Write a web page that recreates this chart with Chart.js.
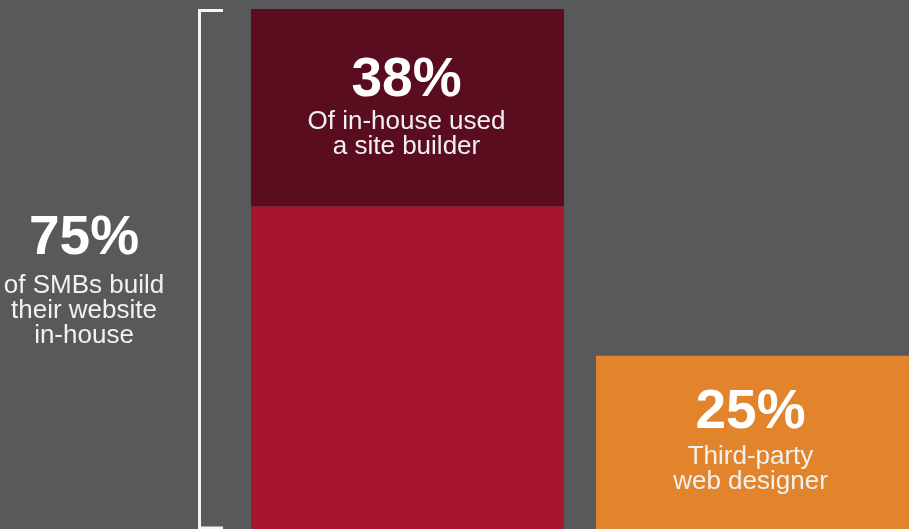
<!DOCTYPE html>
<html>
<head>
<meta charset="utf-8">
<script src="https://cdn.jsdelivr.net/npm/chart.js@4/dist/chart.umd.min.js"></script>
<style>
  html, body { margin: 0; padding: 0; background: #58595b; }
  #wrap { width: 909px; height: 529px; position: relative; }
</style>
</head>
<body>
<div id="wrap"><canvas id="c"></canvas></div>
<script>
// How SMBs build their website (percent of SMBs)
const categories = ['In-house', 'Third-party'];
const inHouseTotal = 75;        // % of SMBs building in-house
const siteBuilderShare = 38;    // % of in-house builders who used a site builder
const thirdPartyTotal = 25;     // % of SMBs using a third-party web designer

// Stacked segments: site-builder slice sits on top of the rest of the in-house bar
const siteBuilderPart = [inHouseTotal * siteBuilderShare / 100, null];
const otherInHousePart = [inHouseTotal - siteBuilderPart[0], null];
const thirdPartyPart = [null, thirdPartyTotal];

const headlineLabels = [inHouseTotal + '%', siteBuilderShare + '%', thirdPartyTotal + '%'];
const captionLines = [
  ['of SMBs build', 'their website', 'in-house'],
  ['Of in-house used', 'a site builder'],
  ['Third-party', 'web designer']
];

const BIG_FONT = 'bold 55px "Liberation Sans", Arial, sans-serif';
const SMALL_FONT = '26px "Liberation Sans", Arial, sans-serif';

const annotations = {
  id: 'annotations',
  afterDatasetsDraw(chart) {
    const ctx = chart.ctx;
    const y = chart.scales.y;
    const topY = y.getPixelForValue(inHouseTotal);
    const baseY = y.getPixelForValue(0);

    // bracket spanning the in-house bar
    ctx.save();
    ctx.strokeStyle = '#f4f4f4';
    ctx.lineWidth = 3;
    ctx.beginPath();
    ctx.moveTo(223, topY + 1.5);
    ctx.lineTo(199.5, topY + 1.5);
    ctx.lineTo(199.5, baseY - 1);
    ctx.lineTo(223, baseY - 1);
    ctx.stroke();

    ctx.textAlign = 'center';
    ctx.textBaseline = 'alphabetic';

    const drawBlock = (cx, headBase, head, lines, firstOffset) => {
      ctx.font = BIG_FONT;
      ctx.fillStyle = '#ffffff';
      ctx.fillText(head, cx, headBase);
      ctx.font = SMALL_FONT;
      ctx.fillStyle = '#f1f1f1';
      lines.forEach((t, i) => ctx.fillText(t, cx, headBase + firstOffset + i * 25));
    };

    // left-hand summary beside the bracket
    drawBlock(84, topY + 245, headlineLabels[0], captionLines[0], 39);

    // labels inside the bars
    const topSeg = chart.getDatasetMeta(1).data[0];
    drawBlock(topSeg.x - 1, topSeg.y + 87, headlineLabels[1], captionLines[1], 33);

    const thirdBar = chart.getDatasetMeta(2).data[1];
    drawBlock(thirdBar.x - 2, thirdBar.y + 72, headlineLabels[2], captionLines[2], 36);
    ctx.restore();
  }
};

new Chart(document.getElementById('c'), {
  type: 'bar',
  data: {
    labels: categories,
    datasets: [
      { label: 'Other in-house', data: otherInHousePart, backgroundColor: '#a8162e' },
      { label: 'Site builder', data: siteBuilderPart, backgroundColor: '#5a0d1f' },
      { label: 'Third-party', data: thirdPartyPart, backgroundColor: '#e1842c' }
    ]
  },
  options: {
    responsive: true,
    maintainAspectRatio: false,
    animation: false,
    // category centres sit on the chart-area edges (offset: false)
    layout: { padding: { left: 407.5, right: 156.5, top: 9, bottom: 0 } },
    datasets: { bar: { categoryPercentage: 1, barPercentage: 0.907, borderWidth: 0, skipNull: true, clip: false } },
    plugins: { legend: { display: false }, tooltip: { enabled: false } },
    scales: {
      x: { stacked: true, display: false, offset: false, grid: { display: false, offset: false } },
      y: { stacked: true, display: false, min: 0, max: inHouseTotal, grid: { display: false } }
    }
  },
  plugins: [annotations]
});
</script>
</body>
</html>
